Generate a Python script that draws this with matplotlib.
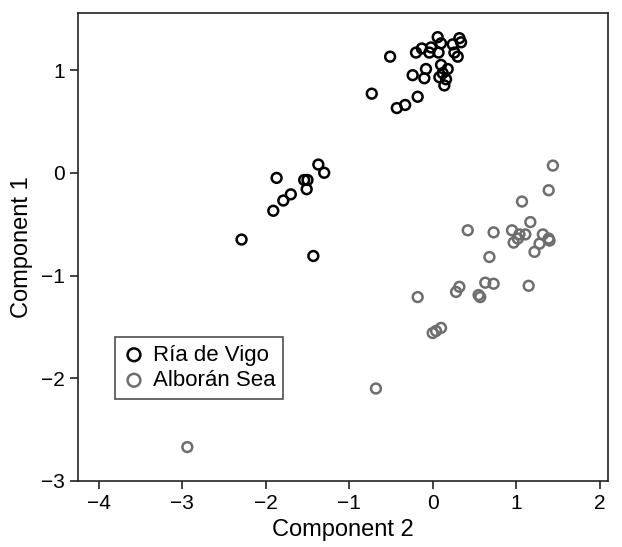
import matplotlib.pyplot as plt

plt.rcParams['font.family'] = ['Liberation Sans', 'DejaVu Sans']

# Ria de Vigo (black)
vigo_x = [0.06, 0.32, 0.34, -0.13, -0.02, 0.10, 0.24, -0.20, -0.04, 0.07, 0.26, 0.30,
          -0.51, -0.08, -0.24, -0.10, 0.10, 0.18, 0.12, 0.08, 0.16, 0.14, -0.73, -0.18,
          -0.33, -0.43,
          -1.87, -1.37, -1.30, -1.54, -1.50, -1.51, -1.70, -1.79, -1.91, -2.29, -1.43]
vigo_y = [1.32, 1.31, 1.27, 1.21, 1.22, 1.26, 1.25, 1.17, 1.17, 1.17, 1.17, 1.13,
          1.13, 1.01, 0.95, 0.92, 1.05, 1.01, 0.97, 0.93, 0.91, 0.85, 0.77, 0.74,
          0.66, 0.63,
          -0.05, 0.08, 0.00, -0.07, -0.07, -0.16, -0.21, -0.27, -0.37, -0.65, -0.81]

# Alboran Sea (grey)
alb_x = [1.44, 1.39, 1.07, 1.17, 0.42, 0.73, 0.95, 1.04, 1.11, 1.02, 0.97, 1.32,
         1.39, 1.40, 1.28, 1.22, 0.68, 0.63, 0.73, 1.15, 0.32, 0.28, -0.18, 0.55,
         0.57, 0.00, 0.04, 0.10, -0.68, -2.94]
alb_y = [0.07, -0.17, -0.28, -0.48, -0.56, -0.58, -0.56, -0.60, -0.60, -0.64, -0.68, -0.60,
         -0.64, -0.66, -0.69, -0.77, -0.82, -1.07, -1.08, -1.10, -1.11, -1.16, -1.21, -1.19,
         -1.21, -1.56, -1.54, -1.51, -2.10, -2.67]

fig = plt.figure(figsize=(6.22, 5.47), dpi=100)
ax = fig.add_axes([0.1254, 0.1207, 0.852, 0.8555])

ax.scatter(vigo_x, vigo_y, s=50, facecolors='none', edgecolors='black',
           linewidths=1.8, label='Ría de Vigo')
ax.scatter(alb_x, alb_y, s=50, facecolors='none', edgecolors='#6e6e6e',
           linewidths=1.8, label='Alborán Sea')

ax.set_xlim(-4.25, 2.1)
ax.set_ylim(-3, 1.555)
ax.set_xticks([-4, -3, -2, -1, 0, 1, 2])
ax.set_yticks([-3, -2, -1, 0, 1])
ax.set_xticklabels(['\u22124', '\u22123', '\u22122', '\u22121', '0', '1', '2'])
ax.set_yticklabels(['\u22123', '\u22122', '\u22121', '0', '1'])
ax.tick_params(direction='out', length=6, width=1.2, labelsize=15, color='#222222')
for sp in ax.spines.values():
    sp.set_linewidth(1.2)
    sp.set_color('#222222')

ax.set_xlabel('Component 2', fontsize=17, labelpad=4)
ax.set_ylabel('Component 1', fontsize=17, labelpad=6)

leg = ax.legend(loc='upper left', bbox_to_anchor=(0.07, 0.308), borderaxespad=0,
                fontsize=16, frameon=True, fancybox=False, edgecolor='#222222',
                handletextpad=0.35, handlelength=1.0, borderpad=0.35, labelspacing=0.2,
                scatterpoints=1, markerscale=1.3)
leg.get_frame().set_linewidth(1.2)

plt.savefig('out.png', dpi=100)
